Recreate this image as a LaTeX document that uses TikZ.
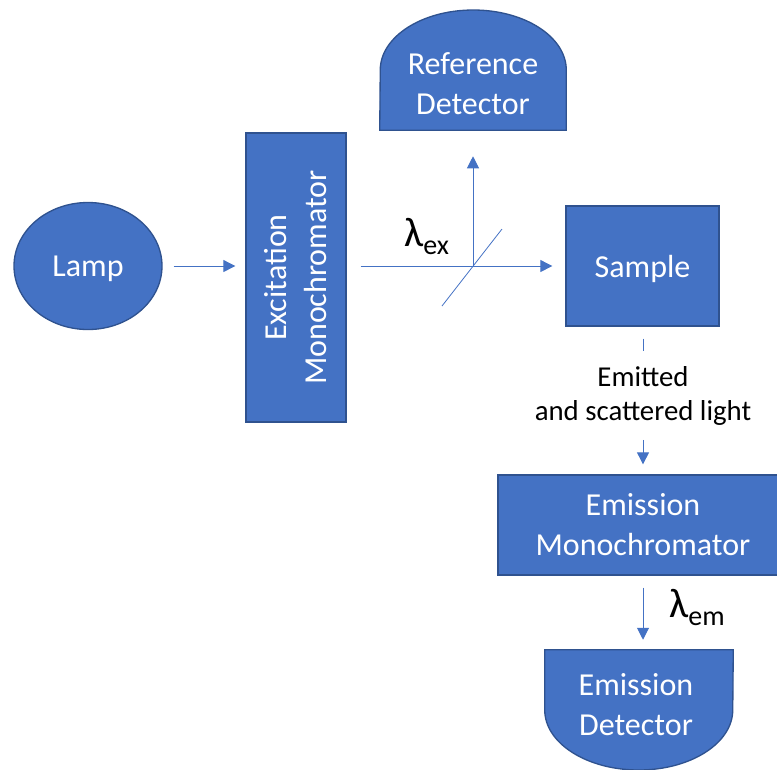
\documentclass[tikz,border=0pt]{standalone}
\usepackage{fontspec}
\setmainfont{Carlito}
\usetikzlibrary{arrows.meta,shapes.geometric}
\definecolor{boxfill}{HTML}{4472C4}
\definecolor{boxline}{HTML}{2F528F}
\begin{document}
\begin{tikzpicture}[x=0.75pt,y=-0.75pt,
  boxfont/.style={font=\fontsize{24}{30}\selectfont},
  block/.style={draw=boxline,fill=boxfill,line width=1pt,text=white,boxfont,
    align=center,inner sep=0pt},
  lampshape/.style={block,ellipse,minimum width=111pt,minimum height=95.25pt},
  boxtext/.style={text=white,boxfont,align=center,inner sep=0pt},
  detarea/.style={inner sep=0pt,minimum height=90pt},
  detfill/.style={draw=boxline,fill=boxfill,line width=1pt},
  beam/.style={draw=boxfill,line width=0.75pt,-{Triangle[length=9pt,width=9pt]}},
  beamline/.style={draw=boxfill,line width=0.75pt},
  splitter/.style={draw=boxfill,line width=0.6pt},
  lightlabel/.style={font=\fontsize{21.6}{25.5}\selectfont,align=center,
    inner sep=0pt,minimum height=66pt},
  lambda/.style={inner sep=0pt,anchor=base west}
]
\clip (0,0) rectangle (777,769);

% light source and excitation side
\node[lampshape,text depth=0pt] (lamp) at (88,266) {Lamp};
\node[block,minimum width=75pt,minimum height=216.75pt] (excit) at (296,277.5) {};
\node[boxtext,rotate=90] at (excit.center) {Excitation\\Monochromator};

% sample and emission side
\node[block,text depth=0pt,minimum width=114.75pt,minimum height=90pt] (sample)
  at (642.5,266) {Sample};
\node[block,minimum width=217.5pt,minimum height=75pt] (emmono) at (643,525)
  {Emission\\Monochromator};

% reference detector: flat bottom, rounded top
\node[detarea,minimum width=139.5pt] (refdet) at (473,70) {};
\path[detfill] (refdet.south west) -- (refdet.south east) -- (refdet.east)
  arc[start angle=0,end angle=180,x radius=69.75pt,y radius=45pt] -- cycle;
\node[boxtext] at (473,84) {Reference\\Detector};

% emission detector: flat top, rounded bottom
\node[detarea,minimum width=141pt] (emdet) at (639,710) {};
\path[detfill] (emdet.north east) -- (emdet.north west) -- (emdet.west)
  arc[start angle=180,end angle=360,x radius=70.5pt,y radius=45pt] -- cycle;
\node[boxtext] at (636,705) {Emission\\Detector};

% beam path with splitter
\coordinate (split) at (473,266);
\draw[beam,shorten <=8.25pt,shorten >=7.5pt] (lamp.east) -- (lamp.east -| excit.west);
\draw[beam,shorten <=10.5pt,shorten >=9.75pt] (excit.east |- sample.west) -- (sample.west);
\draw[beam,shorten >=19.5pt] (split) -- (refdet.south);
\draw[splitter] (split) ++(-31,40) -- ++(60,-77);
\node[lambda] (lex) at (404,246)
  {{\fontsize{31}{31}\selectfont λ}{\fontsize{21}{21}\selectfont\raisebox{-6pt}{ex}}};

% emitted light towards the emission monochromator
\node[lightlabel] (emit) at (643,395.5) {Emitted\\and scattered light};
\draw[beamline,shorten <=9pt] (emit.north |- sample.south) -- (emit.north);
\draw[beam,shorten >=7.5pt] (emit.south) -- (emit.south |- emmono.north);

% emission monochromator to detector
\draw[beam,shorten <=9pt,shorten >=7.5pt] (emmono.south) -- (emmono.south |- emdet.north);
\node[lambda] (lem) at (669,617)
  {{\fontsize{31}{31}\selectfont λ}{\fontsize{21}{21}\selectfont\raisebox{-6pt}{em}}};
\end{tikzpicture}
\end{document}
